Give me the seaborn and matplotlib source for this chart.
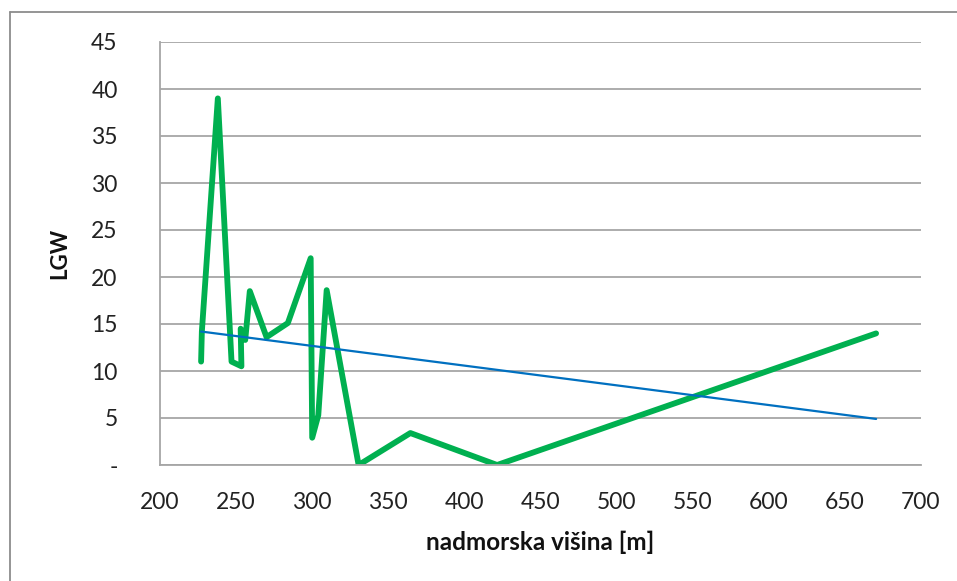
import matplotlib
matplotlib.use("Agg")
import matplotlib.pyplot as plt
from matplotlib.lines import Line2D
import seaborn as sns
import pandas as pd

# LGW measurements against altitude, in measurement order
altitude_m = [227, 227.5, 238, 247, 253.5, 253, 256, 259, 270, 284,
              299, 300, 304, 309.5, 330.5, 364.5, 421.5, 670.5]
lgw = [11, 14.2, 39, 11, 10.5, 14.5, 13.3, 18.5, 13.6, 15.1,
       22, 2.9, 5.3, 18.6, 0, 3.4, 0, 14]

# linear trend endpoints
trend_x = [227, 670.5]
trend_y = [14.2, 4.9]

x_ticks = [200, 250, 300, 350, 400, 450, 500, 550, 600, 650, 700]
y_ticks = [0, 5, 10, 15, 20, 25, 30, 35, 40, 45]
y_tick_labels = ["-", "5", "10", "15", "20", "25", "30", "35", "40", "45"]

sns.set_style("white")
plt.rcParams["font.family"] = ["Lato", "DejaVu Sans"]

GRID = "#a6a6a6"
fig = plt.figure(figsize=(9.57, 5.81), dpi=100)
ax = fig.add_axes([160 / 957, 116 / 581, 761 / 957, 423 / 581])

measured = pd.DataFrame({"x": altitude_m, "y": lgw})
trend = pd.DataFrame({"x": trend_x, "y": trend_y})

sns.lineplot(data=trend, x="x", y="y", sort=False, estimator=None,
             color="#0070C0", linewidth=1.6, ax=ax, zorder=3)
sns.lineplot(data=measured, x="x", y="y", sort=False, estimator=None,
             color="#00B050", linewidth=4.2, ax=ax, zorder=2,
             solid_joinstyle="round", solid_capstyle="round")

ax.set_xlim(200, 700)
ax.set_ylim(0, 45)
ax.set_xticks(x_ticks)
ax.set_yticks(y_ticks)
ax.set_yticklabels(y_tick_labels)

ax.grid(axis="y", color=GRID, linewidth=1.3)
ax.grid(axis="x", visible=False)
ax.set_axisbelow(True)
for side in ("top", "right"):
    ax.spines[side].set_visible(False)
for side in ("left", "bottom"):
    ax.spines[side].set_color(GRID)
    ax.spines[side].set_linewidth(1.3)

ax.tick_params(axis="both", which="major", direction="out", length=6.5,
               width=1.3, color=GRID, labelsize=16.5, labelcolor="#222222")
ax.tick_params(axis="y", pad=24)
ax.tick_params(axis="x", pad=13)

ax.set_xlabel("nadmorska višina [m]", fontsize=17.5, fontweight="bold",
              color="#111111")
ax.set_ylabel("LGW", fontsize=16, fontweight="bold", color="#111111")
ax.xaxis.set_label_coords(0.5, -0.155)
ax.yaxis.set_label_coords(-0.118, 0.5)

# chart area border (left and top edges)
fig.add_artist(Line2D([9.5 / 957, 9.5 / 957], [0, 1 - 12 / 581],
                      transform=fig.transFigure, color="#8c8c8c", linewidth=1.3))
fig.add_artist(Line2D([9.5 / 957, 1], [1 - 12 / 581, 1 - 12 / 581],
                      transform=fig.transFigure, color="#8c8c8c", linewidth=1.3))

fig.savefig("out.png", dpi=100)
